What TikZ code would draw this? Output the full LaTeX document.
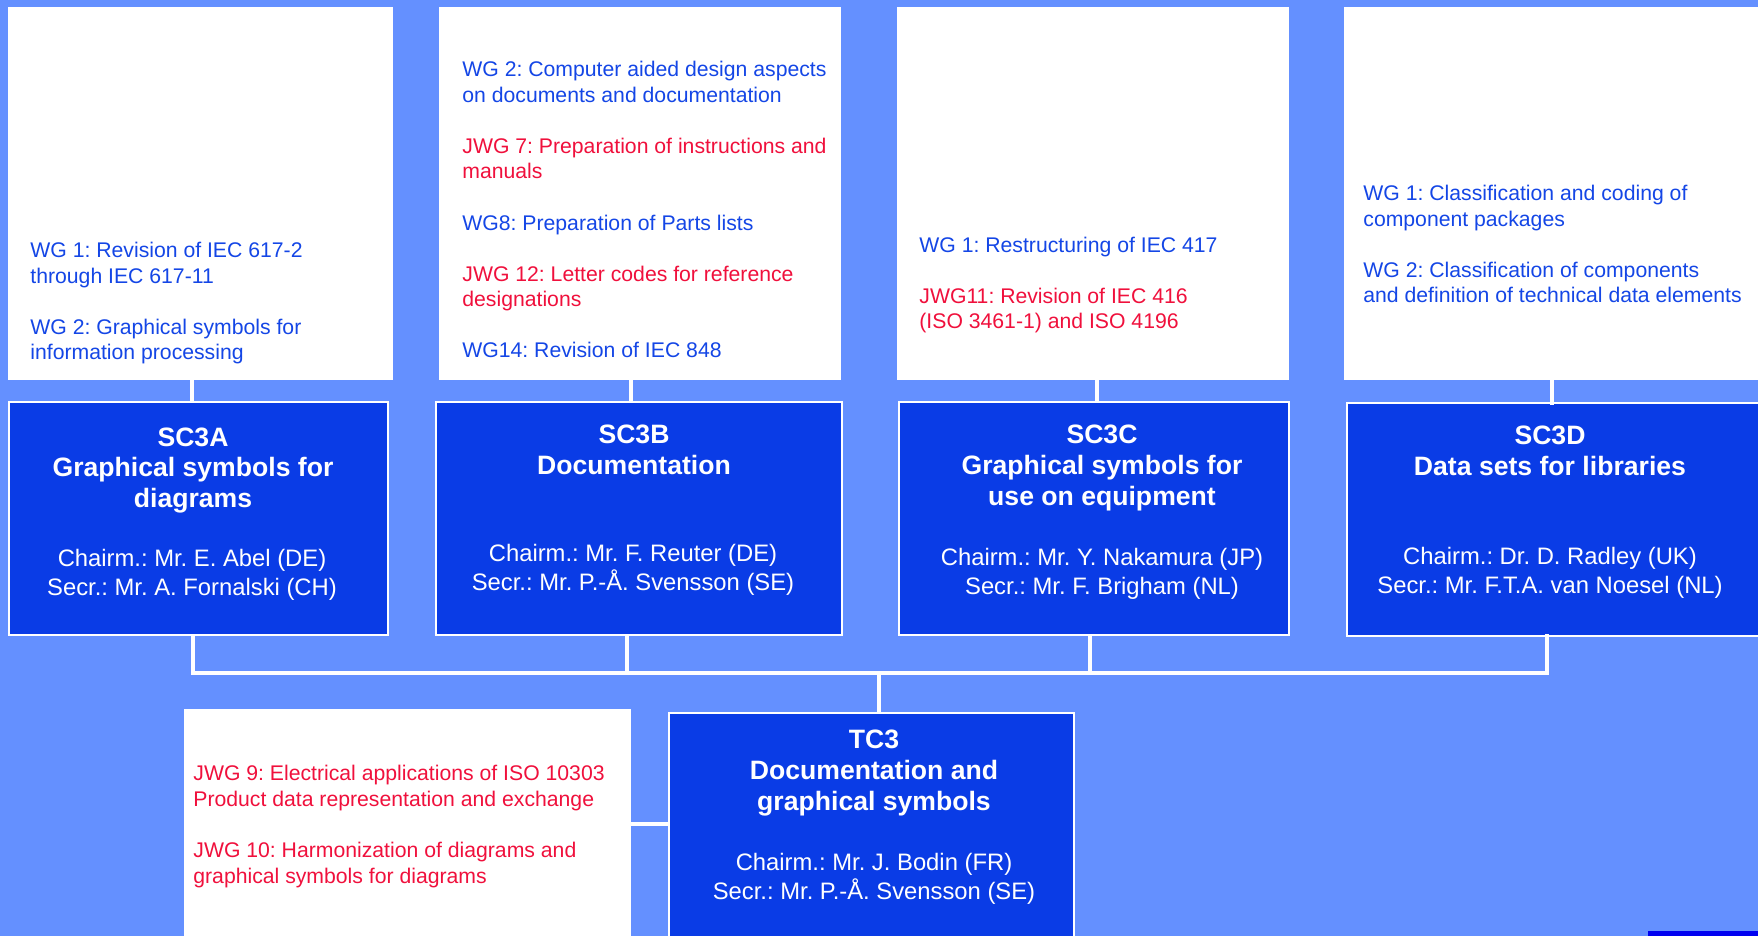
\documentclass[tikz,border=0pt]{standalone}
\usepackage{fontspec}
\setmainfont{Liberation Sans}
\usepackage{xcolor}
\usepackage{tikz}
\frenchspacing

\definecolor{bgblue}{RGB}{100,144,255}
\definecolor{scblue}{RGB}{10,60,230}
\definecolor{wgblue}{RGB}{20,70,230}
\definecolor{wgred}{RGB}{240,16,60}
\definecolor{stripblue}{RGB}{0,0,240}
\newcommand{\redtxt}[1]{\textcolor{wgred}{#1}}

\begin{document}
\begin{tikzpicture}[x=0.5pt,y=-0.5pt]
\fill[bgblue] (0,0) rectangle (1758,936);
\useasboundingbox (0,0) rectangle (1758,936);
\fill[stripblue] (1648,931) rectangle (1758,936);
% working group boxes
\begin{scope}[every node/.style={rectangle,fill=white,inner sep=0pt}]
    \node[minimum width=192.5pt,minimum height=186.5pt] (wgA) at (200.5,193.5) {};
    \node[minimum width=201pt,minimum height=186.5pt] (wgB) at (640,193.5) {};
    \node[minimum width=196pt,minimum height=186.5pt] (wgC) at (1093,193.5) {};
    \node[minimum width=213pt,minimum height=186.5pt] (wgD) at (1557,193.5) {};
    \node[minimum width=223.5pt,minimum height=118pt] (wgL) at (407.5,827) {};
\end{scope}
% committee boxes
\begin{scope}[every node/.style={rectangle,fill=scblue,draw=white,line width=1pt,inner sep=0pt}]
    \node[minimum width=189.5pt,minimum height=116.5pt] (scA) at (198.5,518.5) {};
    \node[minimum width=203pt,minimum height=116.5pt] (scB) at (639,518.5) {};
    \node[minimum width=195pt,minimum height=116.5pt] (scC) at (1094,518.5) {};
    \node[minimum width=214pt,minimum height=116pt] (scD) at (1561,519.5) {};
    \node[minimum width=202.5pt,minimum height=118.5pt] (tc3) at (871.5,831.5) {};
\end{scope}
% working group texts (placed by the baseline of their last line)
\begin{scope}[every node/.style={inner sep=0pt,align=left,anchor=base west,text=wgblue,
              font=\fontsize{10.6}{12.8}\selectfont}]
    \node (txA) at (30,360) {WG 1: Revision of IEC 617-2\\ through IEC 617-11\\[12.8pt]
        WG 2: Graphical symbols for\\ information  processing};
    \node (txB) at (462,358) {WG 2: Computer aided design aspects\\ on documents and documentation\\[12.8pt]
        \redtxt{JWG 7: Preparation of instructions and}\\ \redtxt{manuals}\\[12.8pt]
        WG8: Preparation of Parts lists\\[12.8pt]
        \redtxt{JWG 12: Letter codes for reference}\\ \redtxt{designations}\\[12.8pt]
        WG14: Revision of IEC 848};
    \node (txC) at (919,329) {WG 1: Restructuring of IEC 417\\[12.8pt]
        \redtxt{JWG11: Revision of IEC 416}\\ \redtxt{(ISO 3461-1) and ISO 4196}};
    \node (txD) at (1363,303) {WG 1: Classification and coding of\\ component  packages\\[12.8pt]
        WG 2: Classification of components\\ and definition of technical data elements};
    \node[text=wgred] (txL) at (193,883) {JWG 9: Electrical applications of ISO 10303\\
        Product data representation and exchange\\[12.8pt]
        JWG 10: Harmonization of diagrams and\\ graphical symbols for diagrams};
\end{scope}
% committee titles
\begin{scope}[every node/.style={inner sep=0pt,align=center,anchor=base,text=white,
              font=\bfseries\fontsize{13.3}{15.5}\selectfont}]
    \node (hdA) at (193,508) {SC3A\\ Graphical symbols for\\ diagrams};
    \node (hdB) at (634,474) {SC3B\\ Documentation};
    \node (hdC) at (1102,505) {SC3C\\ Graphical symbols for\\ use on equipment};
    \node (hdD) at (1550,475) {SC3D\\ Data sets for libraries};
    \node (hdT) at (874,810) {TC3\\ Documentation and\\ graphical symbols};
\end{scope}
% chairmen and secretaries
\begin{scope}[every node/.style={inner sep=0pt,align=center,anchor=base,text=white,
              font=\fontsize{11.9}{14.5}\selectfont}]
    \node (psA) at (192,596) {Chairm.: Mr. E. Abel (DE)\\ Secr.: Mr. A. Fornalski (CH)};
    \node (psB) at (633,590) {Chairm.: Mr. F. Reuter (DE)\\ Secr.: Mr. P.-Å. Svensson (SE)};
    \node (psC) at (1102,594) {Chairm.: Mr. Y. Nakamura (JP)\\ Secr.: Mr. F. Brigham (NL)};
    \node (psD) at (1550,593) {Chairm.: Dr. D. Radley (UK)\\ Secr.: Mr. F.T.A. van Noesel (NL)};
    \node (psT) at (874,899) {Chairm.: Mr. J. Bodin (FR)\\ Secr.: Mr. P.-Å. Svensson (SE)};
\end{scope}
% connectors
\coordinate (topA) at (192,0);
\coordinate (topB) at (631,0);
\coordinate (topC) at (1097,0);
\coordinate (topD) at (1552,0);
\coordinate (busA) at (193,673);
\coordinate (busB) at (627,673);
\coordinate (busC) at (1090,673);
\coordinate (busD) at (1547,673);
\coordinate (busT) at (879,673);
\coordinate (lowJ) at (631,824);
\begin{scope}[every edge/.style={draw=white,line width=2.2pt,line cap=rect}]
    \path [-] (topA |- wgA.south) edge (topA |- scA.north);
    \path [-] (topB |- wgB.south) edge (topB |- scB.north);
    \path [-] (topC |- wgC.south) edge (topC |- scC.north);
    \path [-] (topD |- wgD.south) edge (topD |- scD.north);
    \path [-] (busA |- scA.south) edge (busA);
    \path [-] (busB |- scB.south) edge (busB);
    \path [-] (busC |- scC.south) edge (busC);
    \path [-] (busD |- scD.south) edge (busD);
    \path [-] (busA) edge (busD);
    \path [-] (busT) edge (busT |- tc3.north);
    \path [-] (lowJ) edge (lowJ -| tc3.west);
\end{scope}
\end{tikzpicture}
\end{document}
